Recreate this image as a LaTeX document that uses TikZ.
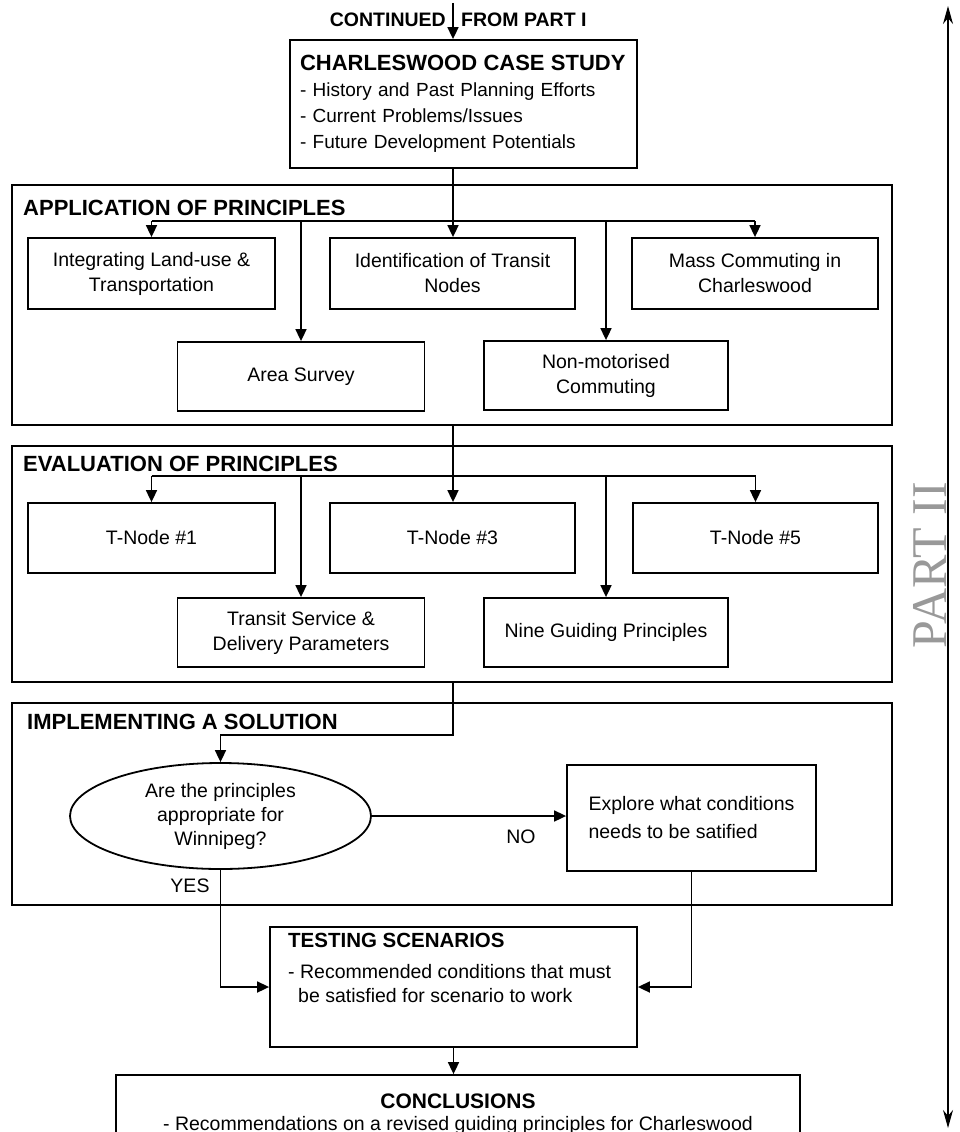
\documentclass[tikz,border=0pt]{standalone}
\usepackage{fontspec}
\setmainfont{Liberation Sans}
\newfontfamily\partfont{Liberation Serif}
\usetikzlibrary{arrows.meta,shapes.geometric}
\newcommand\bodyf{\fontsize{19.5}{25}\selectfont}
\newcommand\ttlf{\fontsize{22}{26}\selectfont\bfseries}
\begin{document}
\begin{tikzpicture}[x=1pt,y=-1pt,
  box/.style={draw, line width=1.8pt, align=center, inner sep=0pt, font=\bodyf},
  frame/.style={draw, line width=2.2pt, inner sep=0pt},
  ttl/.style={font=\ttlf, anchor=base west, inner sep=0pt},
  lbl/.style={font=\bodyf, inner sep=0pt},
  conn/.style={line width=1.7pt},
  arr/.style={conn, -{Triangle[length=12pt,width=11pt]}},
  side/.style={line width=1.2pt, {Stealth[length=18pt,width=10pt]}-{Stealth[length=18pt,width=10pt]}}
]
\useasboundingbox (0,0) rectangle (959,1132);

% --- top ---
\node[font=\fontsize{19.5}{22}\selectfont\bfseries, anchor=base east, inner sep=0pt] (cont) at (446,27) {CONTINUED};
\node[font=\fontsize{19.5}{22}\selectfont\bfseries, anchor=base west, inner sep=0pt] (from) at (461,27) {FROM PART I};
\coordinate (cstart) at (453,3);

\node[box, minimum width=347, minimum height=128, text width=327, align=left,
      font=\fontsize{19}{26}\selectfont] (case) at (463.5,104)
  {{\ttlf CHARLESWOOD CASE STUDY}\\- History and Past Planning Efforts\\- Current Problems/Issues\\- Future Development Potentials};
\draw[arr] (cstart) -- (cstart |- case.north);

% --- application of principles ---
\node[frame, minimum width=880, minimum height=240] (app) at (452,305) {};
\node[ttl] (appt) at (23,215) {APPLICATION OF PRINCIPLES};
\node[box, minimum width=247, minimum height=71] (integ) at (151.5,273.5) {Integrating Land-use \&\\Transportation};
\node[box, minimum width=245, minimum height=71] (ident) at (452.5,273.5) {Identification of Transit\\Nodes};
\node[box, minimum width=246, minimum height=71] (mass) at (755,273.5) {Mass Commuting in\\Charleswood};
\node[box, minimum width=247, minimum height=69] (area) at (301,376.5) {Area Survey};
\node[box, minimum width=244, minimum height=69] (nonmot) at (606,375.5) {Non-motorised\\Commuting};
\coordinate (abar) at (453,221);
\draw[arr] (case.south -| abar) -- (abar |- ident.north);
\draw[conn] (integ.north |- abar) -- (mass.north |- abar);
\draw[arr] (integ.north |- abar) -- (integ.north);
\draw[arr] (mass.north |- abar) -- (mass.north);
\draw[arr] (area.north |- abar) -- (area.north);
\draw[arr] (nonmot.north |- abar) -- (nonmot.north);

% --- evaluation of principles ---
\node[frame, minimum width=880, minimum height=236] (eval) at (452,564) {};
\node[ttl] (evalt) at (23,471) {EVALUATION OF PRINCIPLES};
\node[box, minimum width=247, minimum height=70] (t1) at (151.5,538) {T-Node \#1};
\node[box, minimum width=245, minimum height=70] (t3) at (452.5,538) {T-Node \#3};
\node[box, minimum width=245, minimum height=70] (t5) at (755.5,538) {T-Node \#5};
\node[box, minimum width=247, minimum height=69] (transit) at (301,632.5) {Transit Service \&\\Delivery Parameters};
\node[box, minimum width=244, minimum height=69] (nine) at (606,632.5) {Nine Guiding Principles};
\coordinate (ebar) at (453,476);
\draw[arr] (app.south -| ebar) -- (ebar |- t3.north);
\draw[conn] (t1.north |- ebar) -- (t5.north |- ebar);
\draw[arr] (t1.north |- ebar) -- (t1.north);
\draw[arr] (t5.north |- ebar) -- (t5.north);
\draw[arr] (transit.north |- ebar) -- (transit.north);
\draw[arr] (nine.north |- ebar) -- (nine.north);

% --- implementing a solution ---
\node[frame, minimum width=880, minimum height=202] (impl) at (452,804) {};
\node[ttl] (implt) at (27,729) {IMPLEMENTING A SOLUTION};
\node[box, ellipse, minimum width=301, minimum height=106, font=\fontsize{19.5}{24}\selectfont] (q) at (220.5,816)
  {Are the principles\\appropriate for\\Winnipeg?};
\node[box, minimum width=249, minimum height=106, align=left, font=\fontsize{19.5}{28}\selectfont] (explore) at (691.5,818)
  {Explore what conditions\\needs to be satified};
\coordinate (ibend) at (453,735);
\draw[arr] (eval.south -| ibend) -- (ibend) -| (q.north);
\draw[arr] (q.east) -- (q.east -| explore.west);
\node[lbl] (no) at (521,837) {NO};
\node[lbl] (yes) at (190,886) {YES};

% --- testing ---
\node[box, minimum width=367, minimum height=120] (test) at (453.5,987) {};
\node[anchor=north west, inner sep=0pt, align=left, font=\fontsize{19.5}{24}\selectfont] (testtxt) at (288,933)
  {{\fontsize{20.5}{24}\selectfont\bfseries TESTING SCENARIOS}\\[7pt]- Recommended conditions that must\\\hspace*{10pt}be satisfied for scenario to work};
\draw[arr] (q.south) |- (test.west);
\draw[arr] (explore.south) |- (test.east);

% --- conclusions ---
\begin{scope}
\clip (0,0) rectangle (959,1132);
\node[box, minimum width=684, minimum height=90] (concl) at (458,1120) {};
\end{scope}
\node[font=\fontsize{21}{24}\selectfont\bfseries, anchor=base, inner sep=0pt] (conclt) at (458,1108) {CONCLUSIONS};
\node[font=\bodyf, anchor=base, inner sep=0pt] (conclr) at (458,1130) {- Recommendations on a revised guiding principles for Charleswood};
\draw[arr] (test.south) -- (test.south |- concl.north);

% --- side ---
\coordinate (stop) at (948,6);
\coordinate (sbot) at (948,1128);
\draw[side] (stop) -- (sbot);
\node[rotate=90, font=\fontsize{50}{54}\selectfont\partfont, text=black!40, inner sep=0pt] (part) at (930,565) {PART II};
\end{tikzpicture}
\end{document}
